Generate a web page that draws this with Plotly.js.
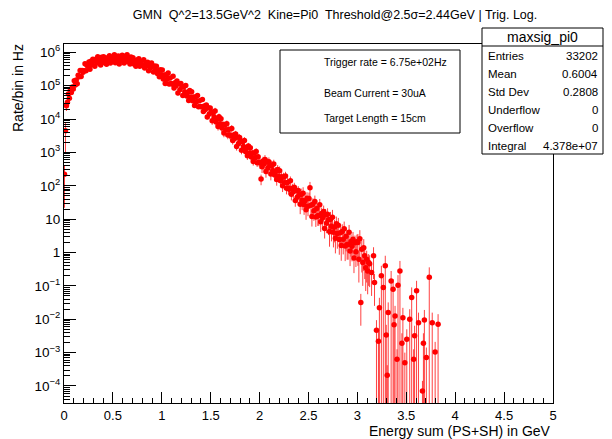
<!DOCTYPE html>
<html><head><meta charset="utf-8">
<script src="https://cdn.plot.ly/plotly-3.0.1.min.js"></script>
<style>html,body{margin:0;padding:0;background:#fff}#chart{width:612px;height:439px}</style>
</head><body><div id="chart"></div>
<script>
// ---- data ----
const binLow = 0, binWidth = 0.01;
// rate per 0.01 GeV bin, bins starting at 0.00 GeV (10 bins per row)
const bulkRate = [
 220, 4500, 2.5e4, 3.2e4, 5.6e4, 4.2e4, 7.4e4, 6.3e4, 9.1e4, 8.0e4,
 1.41e5,1.05e5,1.48e5,1.15e5,2.04e5,1.86e5,2.88e5,1.9e5,2.88e5,2.51e5,
 2.82e5,4.57e5,2.82e5,4.07e5,3.8e5,5.13e5,3.09e5,5.37e5,4.27e5,6.17e5,
 5.37e5,3.8e5,6.17e5,5.13e5,7.41e5,4.68e5,5.75e5,4.17e5,7.08e5,5.37e5,
 7.41e5,4.9e5,6.31e5,4.37e5,6.92e5,5.62e5,7.94e5,4.79e5,6.76e5,5.37e5,
 5.62e5,8.51e5,4.9e5,6.76e5,6.03e5,7.76e5,4.47e5,7.41e5,5.75e5,8.13e5,
 6.92e5,4.79e5,7.59e5,6.17e5,8.51e5,5.25e5,6.31e5,4.47e5,7.24e5,5.37e5,
 6.92e5,4.47e5,5.62e5,3.8e5,5.89e5,4.79e5,6.46e5,3.8e5,5.25e5,4.07e5,
 4.07e5,6.03e5,3.39e5,4.57e5,3.98e5,5.01e5,2.82e5,4.57e5,3.47e5,4.79e5,
 3.89e5,2.57e5,3.89e5,2.95e5,3.8e5,2.34e5,2.75e5,1.86e5,3.02e5,2.14e5,
 2.95e5,1.58e5,2.09e5,1.17e5,2.14e5,1.55e5,2.4e5,1.12e5,1.7e5,1.17e5,
 1.12e5,1.91e5,8.51e4,1.23e5,1.0e5,1.38e5,6.03e4,1.15e5,7.59e4,1.17e5,
 9.12e4,5.13e4,9.33e4,6.61e4,1.02e5,4.9e4,6.31e4,3.63e4,7.24e4,4.57e4,
 6.61e4,3.55e4,4.57e4,2.57e4,4.57e4,3.31e4,5.13e4,2.34e4,3.55e4,2.4e4,
 2.34e4,3.89e4,1.7e4,2.45e4,1.95e4,2.63e4,1.15e4,2.19e4,1.41e4,2.14e4,
 1.62e4,8.91e3,1.58e4,1.15e4,1.74e4,8.13e3,1.02e4,6.03e3,1.17e4,7.24e3,
 1.02e4,5.37e3,6.92e3,3.8e3,6.76e3,4.79e3,7.24e3,3.31e3,4.9e3,3.31e3,
 3.16e3,5.25e3,2.29e3,3.31e3,2.63e3,3.55e3,1.51e3,2.88e3,1.86e3,2.82e3,
 2.14e3,1.17e3,2.09e3,1.51e3,2.29e3,1.07e3,1.35e3,7.94e2,1.55e3,9.55e2,
 1.38e3,7.24e2,9.55e2,5.37e2,9.55e2,6.92e2,1.07e3,4.9e2,7.41e2,5.01e2,
 4.9e2,1.6e2,3.72e2,5.5e2,4.47e2,6.17e2,2.69e2,5.13e2,3.39e2,5.25e2,
 4.07e2,2.24e2,4.07e2,2.88e2,4.47e2,2.09e2,2.69e2,1.55e2,3.09e2,1.91e2,
 2.82e2,1.41e2,1.86e2,1.0e2,1.82e2,1.23e2,1.95e2,8.51e1,1.26e2,8.32e1,
 7.94e1,1.41e2,5.62e1,8.51e1,6.61e1,9.12e1,3.63e1,7.24e1,4.57e1,7.24e1,
 5.25e1,2.82e1,5.5e1,3.72e1,6.03e1,2.69e1,3.55e1,1.91e1,4.27e1,2.45e1,
 4.17e1,8.71e1,2.63e1,1.2e1,2.82e1,1.78e1,3.39e1,1.17e1,2.09e1,1.26e1,
 1.26e1,2.69e1,8.32,1.48e1,1.1e1,1.7e1,5.25,1.35e1,7.59,1.41e1,
 9.55,4.27,10,6.17,11.5,4.07,5.75,2.69,7.24,3.72,
 6.61,2.45,3.89,1.62,4.27,2.51,5.13,1.58,3.09,1.74,
 1.74,4.07,1.12,2.14,1.55,2.51,0.69,1.95,1.05,2.09
];
// sparse tail (non-empty bins only)
const tailEnergy = [3.005,3.015,3.025,3.035,3.045,3.055,3.065,3.075,3.085,3.095,
 3.105,3.115,3.125,3.145,3.165,3.175,3.195,3.215,3.225,3.245,
 3.265,3.285,3.295,3.305,3.315,3.345,3.365,3.375,3.385,3.405,
 3.415,3.435,3.455,3.465,3.485,3.505,3.535,3.555,3.575,3.585,
 3.605,3.625,3.665,3.675,3.685,3.705,3.735,3.765,3.795,3.825];
const tailRate = [2.0,0.63,2.6,0.032,1.26,0.5,1.4,0.8,0.35,0.63,
 0.28,0.5,0.46,0.25,0.8,0.126,0.0047,0.0022,0.022,0.2,
 0.089,0.4,0.0034,2.1e-4,0.016,0.14,0.079,0.0068,0.0126,6.3e-4,
 0.105,0.28,0.0019,0.011,5.0e-4,0.0025,0.01,0.045,6.3e-4,0.0032,
 0.071,0.0079,7.1e-5,0.0019,0.0095,7.1e-4,0.18,0.0079,0.00105,0.0071];
// relative error (percent) by energy band: [from, to, percent]
const errBands = [[0,0.01,90],[0.01,0.02,80],[0.02,0.05,30],[0.05,0.12,15],[0.12,1.0,8],
 [1.0,1.5,15],[1.5,2.0,25],[2.0,2.4,35],[2.4,2.7,50],[2.7,3.0,65],[3.0,3.19,80],[3.19,5,100]];

const yTickVals = [1e-4,1e-3,1e-2,1e-1,1,10,1e2,1e3,1e4,1e5,1e6];
const yTickText = ['10<sup>\u22124</sup>','10<sup>\u22123</sup>','10<sup>\u22122</sup>','10<sup>\u22121</sup>','1','10',
 '10<sup>2</sup>','10<sup>3</sup>','10<sup>4</sup>','10<sup>5</sup>','10<sup>6</sup>'];

const chartTitle = 'GMN\u00a0 Q^2=13.5GeV^2\u00a0 Kine=Pi0\u00a0 Threshold@2.5\u03c3=2.44GeV | Trig. Log.';
const xTitle = 'Energy sum (PS+SH) in GeV';
const yTitle = 'Rate/bin in Hz';
const statsName = 'maxsig_pi0';
const statsLabels = ['Entries','Mean','Std Dev','Underflow','Overflow','Integral'];
const statsValues = ['33202','0.6004','0.2808','0','0','4.378e+07'];
const infoLines = ['Trigger rate = 6.75e+02Hz','Beam Current = 30uA','Target Length = 15cm'];

// ---- build ----
const energy = bulkRate.map((_, i) => +(binLow + binWidth * (i + 0.5)).toFixed(3)).concat(tailEnergy);
const rate = bulkRate.concat(tailRate);
const pctFor = e => { for (const [lo, hi, p] of errBands) if (e >= lo && e < hi) return p; return 100; };
const rateErr = rate.map((r, i) => r * pctFor(energy[i]) / 100);

const minorVals = [];
for (let p = -5; p <= 6; p++) for (let k = 2; k <= 9; k++) minorVals.push(k * Math.pow(10, p));

const W = 612, H = 439, M = {l: 64, r: 59, t: 44, b: 36};
const pw = W - M.l - M.r, ph = H - M.t - M.b;
const px = v => (v - M.l) / pw;
const py = v => 1 - (v - M.t) / ph;

const FONT = '"Liberation Sans", Arial, Helvetica, sans-serif';
const red = '#ff0000';

const trace = {
  type: 'scatter', mode: 'markers', x: energy, y: rate,
  marker: {color: red, size: 5.5, symbol: 'circle'},
  error_y: {type: 'data', array: rateErr, visible: true, color: 'rgba(255,0,0,0.75)', thickness: 1, width: 0},
  error_x: {type: 'constant', value: binWidth / 2, visible: true, color: red, thickness: 1, width: 0},
  hoverinfo: 'x+y'
};

const shapes = [
  {type: 'rect', xref: 'paper', yref: 'paper', x0: px(280), x1: px(460), y0: py(50), y1: py(133),
   fillcolor: '#fff', line: {color: '#000', width: 1}, layer: 'above'},
  {type: 'rect', xref: 'paper', yref: 'paper', x0: px(482), x1: px(603), y0: py(28), y1: py(154),
   fillcolor: '#fff', line: {color: '#000', width: 1}, layer: 'above'},
  {type: 'line', xref: 'paper', yref: 'paper', x0: px(482), x1: px(603), y0: py(46), y1: py(46),
   line: {color: '#000', width: 1}, layer: 'above'}
];

const annotations = [];
const ann = (text, x, y, xa, size, extra) => annotations.push(Object.assign({
  text, xref: 'paper', yref: 'paper', x: px(x), y: py(y), xanchor: xa, yanchor: 'middle',
  showarrow: false, font: {family: FONT, size, color: '#000'}
}, extra || {}));

ann(statsName, 542, 37, 'center', 14);
const rowY = [56, 74, 92, 110, 128, 146];
statsLabels.forEach((t, i) => ann(t, 486, rowY[i], 'left', 11.5));
statsValues.forEach((t, i) => ann(t, 600, rowY[i], 'right', 11.5));
const infoY = [62, 93, 118];
infoLines.forEach((t, i) => ann(t, 322, infoY[i], 'left', 10.5));
ann(xTitle, 553, 431, 'right', 14);
ann(yTitle, 18, 88, 'center', 14, {textangle: -90});

const layout = {
  width: W, height: H, margin: {l: M.l, r: M.r, t: M.t, b: M.b, pad: 0},
  paper_bgcolor: '#fff', plot_bgcolor: '#fff', showlegend: false,
  font: {family: FONT, color: '#000', size: 13},
  title: {text: chartTitle, x: 335 / W, xanchor: 'center', xref: 'container',
          y: 1 - 15 / H, yanchor: 'middle', yref: 'container', font: {family: FONT, size: 12.5, color: '#000'}},
  xaxis: {range: [0, 5], tick0: 0, dtick: 0.5, ticks: 'inside', ticklen: 11, tickwidth: 1, tickcolor: '#000',
          showline: true, linecolor: '#000', linewidth: 1, mirror: true, showgrid: false, zeroline: false,
          tickfont: {family: FONT, size: 13, color: '#000'},
          minor: {tick0: 0, dtick: 0.1, ticks: 'inside', ticklen: 5, tickwidth: 1, tickcolor: '#000', showgrid: false}},
  yaxis: {type: 'log', range: [-4.51, 6.25], tickmode: 'array', tickvals: yTickVals, ticktext: yTickText,
          ticks: 'inside', ticklen: 12, tickwidth: 1, tickcolor: '#000',
          showline: true, linecolor: '#000', linewidth: 1, mirror: true, showgrid: false, zeroline: false,
          tickfont: {family: FONT, size: 13.5, color: '#000'},
          minor: {tickmode: 'array', tickvals: minorVals, ticks: 'inside', ticklen: 6, tickwidth: 1, tickcolor: '#000', showgrid: false}},
  shapes, annotations
};

Plotly.newPlot('chart', [trace], layout, {displayModeBar: false, staticPlot: true});
</script>
</body></html>
